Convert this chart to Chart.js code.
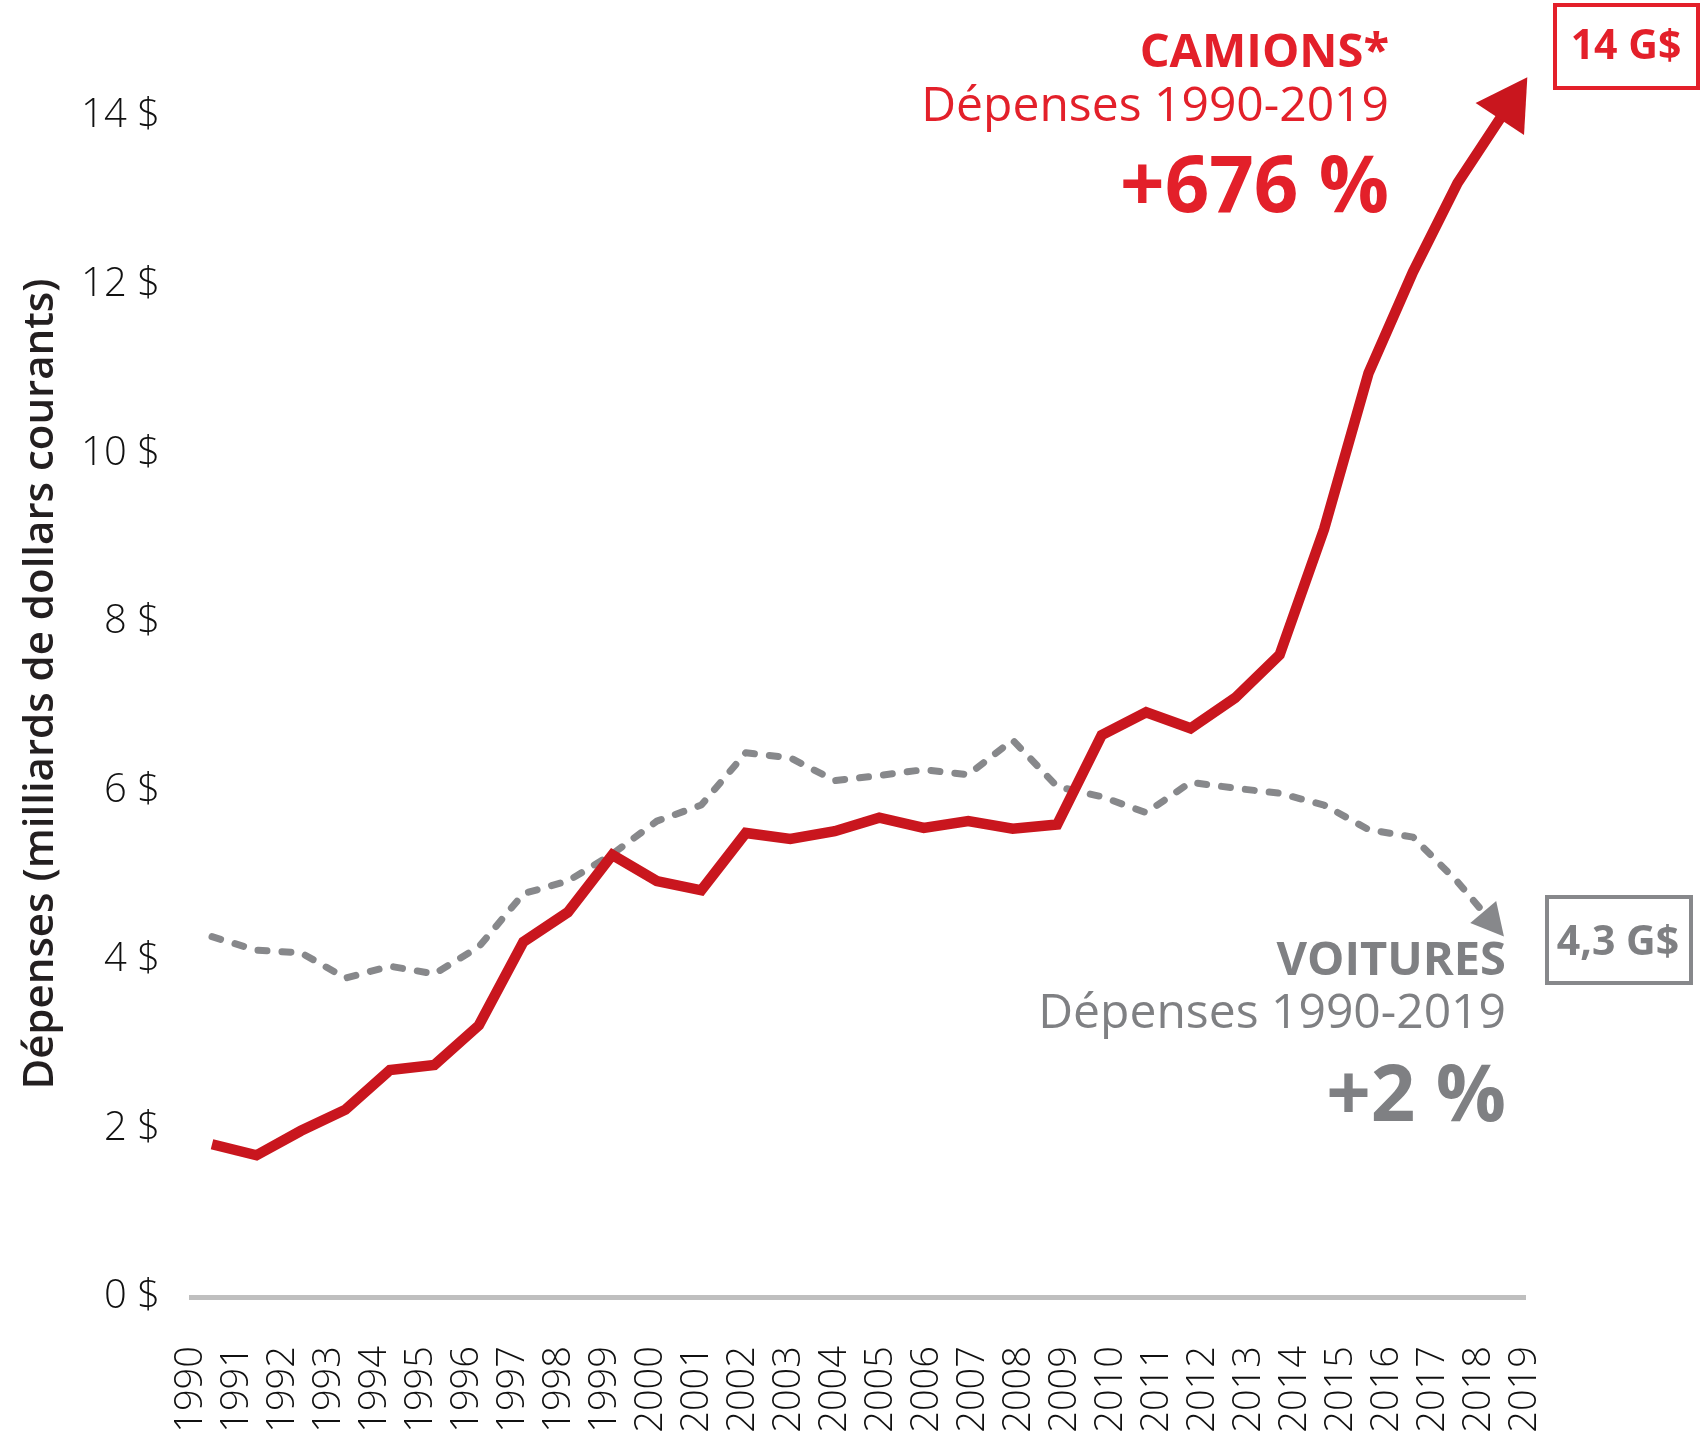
<!DOCTYPE html>
<html><head><meta charset="utf-8">
<script src="https://cdn.jsdelivr.net/npm/chart.js@4.4.1/dist/chart.umd.min.js"></script>
<style>html,body{margin:0;padding:0;background:#fff;}#wrap{width:1706px;height:1440px;position:relative;}</style>
</head><body><div id="wrap"><canvas id="c" width="1706" height="1440"></canvas></div>
<script>
const years = [1990,1991,1992,1993,1994,1995,1996,1997,1998,1999,2000,2001,2002,2003,2004,2005,2006,2007,2008,2009,2010,2011,2012,2013,2014,2015,2016,2017,2018,2019];
const yearLabels = ['1990','1991','1992','1993','1994','1995','1996','1997','1998','1999','2000','2001','2002','2003','2004','2005','2006','2007','2008','2009','2010','2011','2012','2013','2014','2015','2016','2017','2018','2019'];
const camions = [1.81,1.68,1.97,2.22,2.69,2.75,3.22,4.21,4.56,5.24,4.93,4.82,5.50,5.43,5.52,5.68,5.56,5.64,5.55,5.60,6.66,6.93,6.74,7.10,7.61,9.10,10.95,12.15,13.20,14.00];
const voitures = [4.27,4.11,4.08,3.78,3.92,3.83,4.15,4.78,4.93,5.25,5.64,5.83,6.45,6.39,6.12,6.18,6.25,6.19,6.60,6.05,5.93,5.74,6.10,6.03,5.97,5.83,5.54,5.45,4.92,4.30];
const yTickValues = [0,2,4,6,8,10,12,14];
const yTickLabels = ['0 $','2 $','4 $','6 $','8 $','10 $','12 $','14 $'];

const RED_LINE = '#c9161e', RED_TXT = '#e3202a', GRAY_LINE = '#87888b', GRAY_TXT = '#7f8083', DARK = '#231f20', TICK = '#111111';
const FONT = '"Open Sans", "Noto Sans", sans-serif';

const arrowPlugin = {
  id: 'arrows',
  afterDatasetsDraw(chart) {
    const ctx = chart.ctx;
    const specs = [
      {ds: 0, color: RED_LINE, len: 50, half: 29, tipOffset: 46},
      {ds: 1, color: GRAY_LINE, len: 32, half: 17, tipOffset: 3}
    ];
    specs.forEach(s => {
      const pts = chart.getDatasetMeta(s.ds).data;
      const p = pts[pts.length - 1], q = pts[pts.length - 2];
      let dx = p.x - q.x, dy = p.y - q.y;
      const L = Math.hypot(dx, dy); dx /= L; dy /= L;
      const tip = {x: p.x + dx * s.tipOffset, y: p.y + dy * s.tipOffset};
      const base = {x: tip.x - dx * s.len, y: tip.y - dy * s.len};
      ctx.save();
      ctx.fillStyle = s.color;
      ctx.beginPath();
      ctx.moveTo(tip.x, tip.y);
      ctx.lineTo(base.x - dy * s.half, base.y + dx * s.half);
      ctx.lineTo(base.x + dy * s.half, base.y - dx * s.half);
      ctx.closePath();
      ctx.fill();
      ctx.restore();
    });
  }
};

const notesPlugin = {
  id: 'notes',
  afterDraw(chart) {
    const ctx = chart.ctx;
    ctx.save();
    ctx.textBaseline = 'alphabetic';
    ctx.textAlign = 'right';
    ctx.fillStyle = RED_TXT;
    ctx.font = 'bold 47px ' + FONT; ctx.fillText('CAMIONS*', 1389, 67);
    ctx.font = '48px ' + FONT; ctx.fillText('Dépenses 1990-2019', 1389, 121);
    ctx.font = 'bold 78px ' + FONT; ctx.fillText('+676 %', 1389, 212);
    ctx.fillStyle = GRAY_TXT;
    ctx.font = 'bold 47px ' + FONT; ctx.fillText('VOITURES', 1506, 975);
    ctx.font = '48px ' + FONT; ctx.fillText('Dépenses 1990-2019', 1506, 1028);
    ctx.font = 'bold 78px ' + FONT; ctx.fillText('+2 %', 1506, 1121);
    ctx.lineWidth = 4;
    ctx.strokeStyle = RED_TXT;
    ctx.strokeRect(1555, 5, 143, 83);
    ctx.strokeStyle = GRAY_LINE;
    ctx.strokeRect(1547, 897, 144, 86);
    ctx.textAlign = 'center';
    ctx.fillStyle = RED_TXT;
    ctx.font = 'bold 41px ' + FONT; ctx.fillText('14 G$', 1626, 59);
    ctx.fillStyle = GRAY_TXT;
    ctx.fillText('4,3 G$', 1618, 955);
    ctx.restore();
  }
};

const chart = new Chart(document.getElementById('c'), {
  type: 'line',
  data: {
    datasets: [
      {
        label: 'Camions',
        data: years.map((x, i) => ({x: x, y: camions[i]})),
        xAxisID: 'x', yAxisID: 'y',
        borderColor: RED_LINE, borderWidth: 10.5,
        pointRadius: 0, tension: 0,
        borderJoinStyle: 'miter', borderCapStyle: 'butt'
      },
      {
        label: 'Voitures',
        data: years.map((x, i) => ({x: x, y: voitures[i]})),
        xAxisID: 'x', yAxisID: 'y',
        borderColor: GRAY_LINE, borderWidth: 7,
        borderDash: [9, 15], borderCapStyle: 'round', borderJoinStyle: 'round',
        pointRadius: 0, tension: 0
      }
    ]
  },
  options: {
    responsive: false,
    animation: false,
    devicePixelRatio: 1,
    layout: {padding: {top: 71, right: 181, bottom: 0, left: 0}},
    plugins: {legend: {display: false}, tooltip: {enabled: false}},
    scales: {
      x: {type: 'linear', min: 1989.528, max: 2019.517, display: false},
      xl: {
        type: 'category', labels: yearLabels, position: 'bottom', offset: false,
        grid: {display: false, drawTicks: false},
        border: {display: true, color: '#bfbfbf', width: 5},
        ticks: {autoSkip: false, minRotation: 90, maxRotation: 90, padding: 49, color: TICK,
                font: {family: FONT, size: 38, weight: '350'}},
        afterFit(s) { s.height = 143; s.paddingLeft = 0; s.paddingRight = 0; }
      },
      y: {
        type: 'linear', min: 0, max: 14.53,
        grid: {display: false, drawTicks: false},
        border: {display: false},
        afterBuildTicks(s) { s.ticks = yTickValues.map(v => ({value: v})); },
        ticks: {padding: 31, color: TICK, font: {family: FONT, size: 40, weight: '350'},
                callback: (v) => yTickLabels[yTickValues.indexOf(v)]},
        title: {display: true, text: 'Dépenses (milliards de dollars courants)', color: DARK,
                font: {family: FONT, size: 42, weight: '600'}, padding: {top: 16, bottom: 0}},
        afterFit(s) { s.width = 191; }
      }
    }
  },
  plugins: [arrowPlugin, notesPlugin]
});
</script></body></html>
